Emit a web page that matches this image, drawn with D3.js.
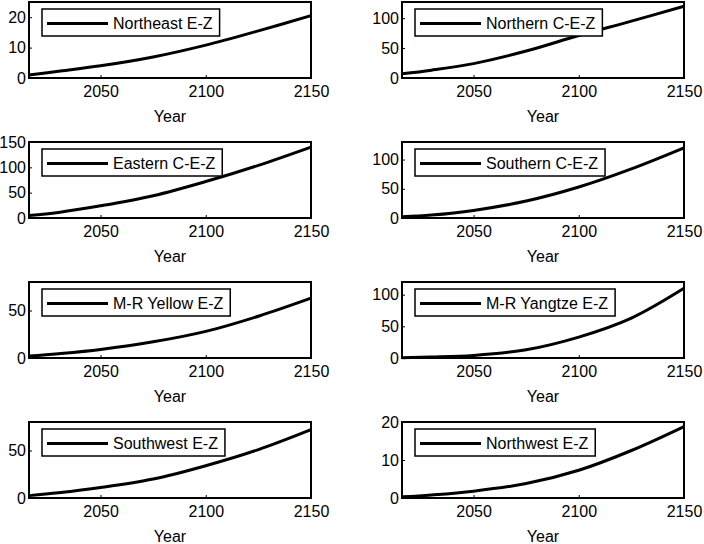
<!DOCTYPE html>
<html>
<head>
<meta charset="utf-8">
<script src="https://cdn.jsdelivr.net/npm/d3@7"></script>
<style>
  body { margin: 0; background: #fff; }
  svg { display: block; font-family: "Liberation Sans", Arial, sans-serif; }
</style>
</head>
<body>
<div id="chart"></div>
<script>
// years
const years = [2016, 2030, 2050, 2075, 2100, 2125, 2150];

// one series per economic zone
const northeast  = [1.0, 2.2, 4.0, 6.9, 10.8, 15.5, 20.5];
const northern   = [7, 13, 24, 45, 71, 95, 120];
const eastern    = [5, 11, 24, 44, 72, 104, 140];
const southern   = [2, 5, 13, 29, 53, 84, 120];
const yellow     = [2, 4.5, 9, 17, 28, 44, 63];
const yangtze    = [0.5, 1.5, 4, 13, 33, 63, 110];
const southwest  = [2.5, 5.5, 11, 20, 34, 51, 72];
const northwest  = [0.3, 0.8, 1.8, 3.8, 7.3, 12.5, 18.8];

const zoneNames = ["Northeast E-Z", "Northern C-E-Z", "Eastern C-E-Z", "Southern C-E-Z",
                   "M-R Yellow E-Z", "M-R Yangtze E-Z", "Southwest E-Z", "Northwest E-Z"];
const zoneSeries = [northeast, northern, eastern, southern, yellow, yangtze, southwest, northwest];
const yMax = [25, 127, 150, 130, 80, 120, 80, 20];
const yTicks = [[0, 10, 20], [0, 50, 100], [0, 50, 100, 150], [0, 50, 100],
                [0, 50], [0, 50, 100], [0, 50], [0, 10, 20]];
const xTicks = [2050, 2100, 2150];

const width = 704, height = 544;
const colLeft = [29, 402];
const panelW = 282, panelH = 76;
const rowTop = i => 2 + 140 * i;

const svg = d3.select("#chart").append("svg")
    .attr("width", width)
    .attr("height", height);

const x = d3.scaleLinear()
    .domain([2016, 2150])
    .range([0, panelW]);

zoneNames.forEach((name, i) => {
  const col = i % 2, row = Math.floor(i / 2);
  const g = svg.append("g")
      .attr("transform", `translate(${colLeft[col]},${rowTop(row)})`);

  const y = d3.scaleLinear()
      .domain([0, yMax[i]])
      .range([panelH, 0]);

  // y axis, ticks pointing in
  g.append("g")
      .call(d3.axisLeft(y).tickValues(yTicks[i]).tickSize(-3).tickPadding(3))
      .call(a => a.select(".domain").remove())
      .call(a => a.selectAll("text").attr("font-size", 16).attr("font-family", null).attr("fill", "#000"))
      .call(a => a.selectAll("line").attr("stroke", "#000"));

  // x axis
  g.append("g")
      .attr("transform", `translate(0,${panelH})`)
      .call(d3.axisBottom(x).tickValues(xTicks).tickFormat(d3.format("d")).tickSize(-3).tickPadding(8))
      .call(a => a.select(".domain").remove())
      .call(a => a.selectAll("text").attr("font-size", 16).attr("font-family", null).attr("fill", "#000"))
      .call(a => a.selectAll("line").attr("stroke", "#000"));

  g.append("text")
      .attr("x", panelW / 2)
      .attr("y", panelH + 43.5)
      .attr("text-anchor", "middle")
      .attr("font-size", 16)
      .text("Year");

  const line = d3.line()
      .x((d, j) => x(years[j]))
      .y(d => y(d))
      .curve(d3.curveCatmullRom.alpha(0.5));

  g.append("path")
      .datum(zoneSeries[i])
      .attr("fill", "none")
      .attr("stroke", "#000")
      .attr("stroke-width", 3)
      .attr("d", line);

  // frame
  g.append("rect")
      .attr("width", panelW)
      .attr("height", panelH)
      .attr("fill", "none")
      .attr("stroke", "#000")
      .attr("stroke-width", 2);

  // legend
  const lg = g.append("g").attr("transform", "translate(13,7)");
  const box = lg.append("rect")
      .attr("height", 27)
      .attr("fill", "#fff")
      .attr("stroke", "#000")
      .attr("stroke-width", 1.5);
  lg.append("line")
      .attr("x1", 5).attr("x2", 66)
      .attr("y1", 14.5).attr("y2", 14.5)
      .attr("stroke", "#000")
      .attr("stroke-width", 3);
  const t = lg.append("text")
      .attr("x", 71)
      .attr("y", 14.5)
      .attr("dy", "0.35em")
      .attr("font-size", 16)
      .text(name);
  box.attr("width", 71 + t.node().getComputedTextLength() + 7);
});
</script>
</body>
</html>
